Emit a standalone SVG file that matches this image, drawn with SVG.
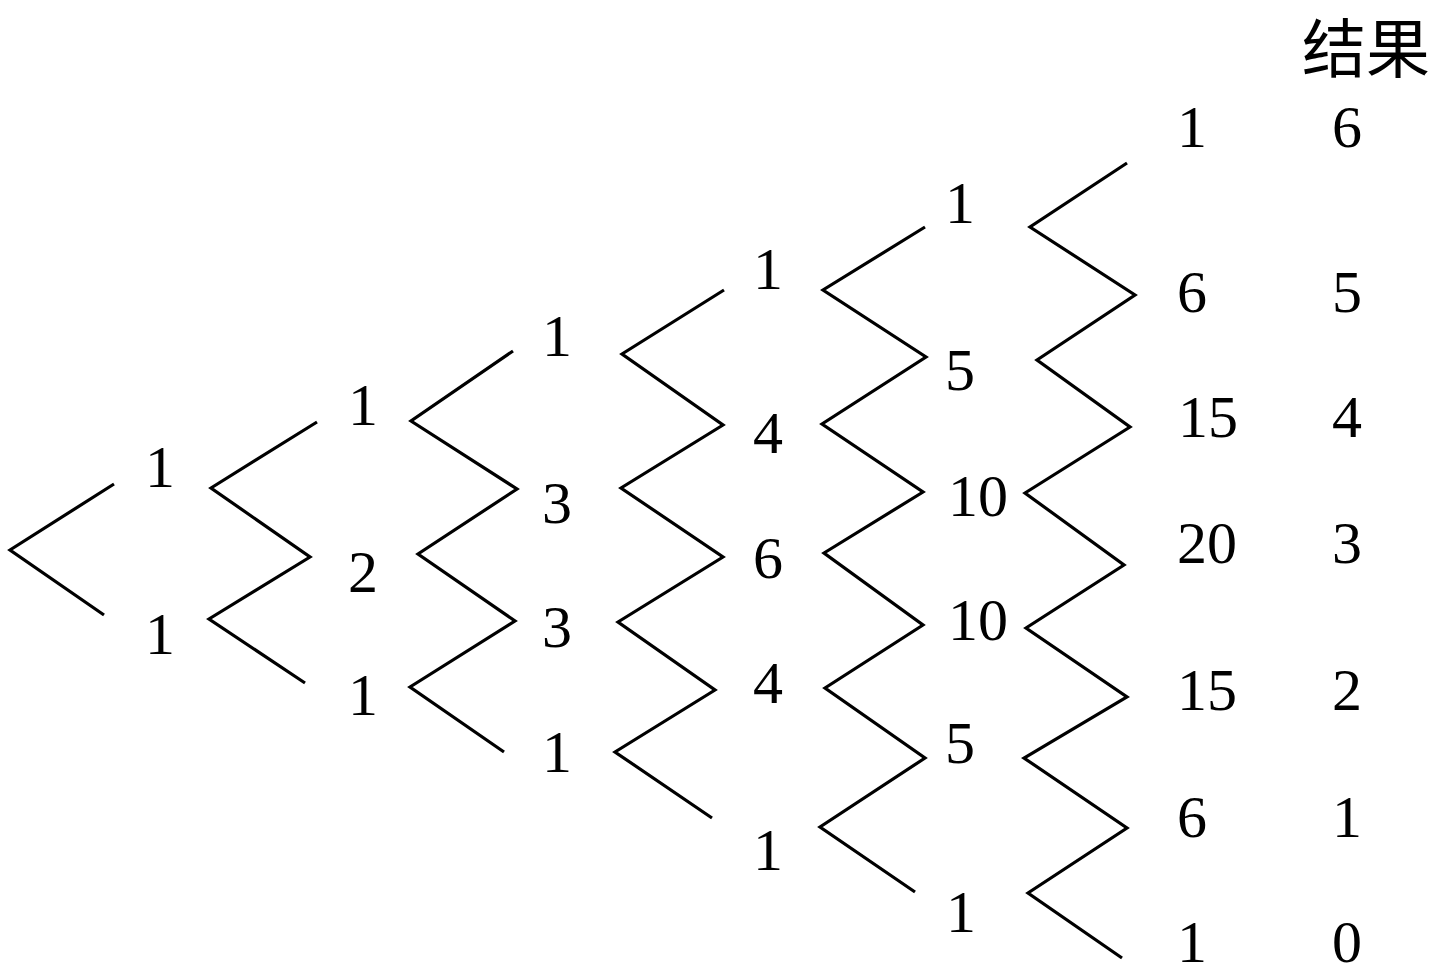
<svg xmlns="http://www.w3.org/2000/svg" width="1446" height="978" viewBox="0 0 1446 978">
<style>
.bg{fill:#fff}
.z{fill:none;stroke:#000;stroke-width:3.2;stroke-linejoin:miter;stroke-linecap:butt}
.n{font-family:"Liberation Serif","Times New Roman",serif;font-size:60px;fill:#000;text-anchor:middle}
.h{font-family:"Liberation Serif","Noto Sans CJK SC",serif;font-size:64px;fill:#000;text-anchor:middle}
</style>
<rect class="bg" x="0" y="0" width="1446" height="978"/>
<g id="connectors">
<polyline class="z" points="114,484 10,550 104,615"/>
<polyline class="z" points="317,422 211,488 310,557 209,619 305,683"/>
<polyline class="z" points="513,351 411,421 517,489 418,554 515,621 410,687 504,752"/>
<polyline class="z" points="724,290 622,354 723,425 621,488 723,557 618,622 715,690 615,752 712,818"/>
<polyline class="z" points="925,227 823,290 926,357 822,424 923,492 824,553 923,625 825,688 925,758 820,827 915,892"/>
<polyline class="z" points="1127,163 1030,227 1135,295 1037,360 1130,427 1025,493 1124,565 1026,628 1127,697 1024,758 1127,828 1028,893 1122,958"/>
</g>
<g id="header"><text class="h" x="1366" y="72">结果</text></g>
<g id="c1-0"><text class="n" x="160" y="487">1</text></g>
<g id="c1-1"><text class="n" x="160" y="654">1</text></g>
<g id="c2-0"><text class="n" x="363" y="425">1</text></g>
<g id="c2-1"><text class="n" x="363" y="592">2</text></g>
<g id="c2-2"><text class="n" x="363" y="715">1</text></g>
<g id="c3-0"><text class="n" x="557" y="356">1</text></g>
<g id="c3-1"><text class="n" x="557" y="523">3</text></g>
<g id="c3-2"><text class="n" x="557" y="647">3</text></g>
<g id="c3-3"><text class="n" x="557" y="772">1</text></g>
<g id="c4-0"><text class="n" x="768" y="289">1</text></g>
<g id="c4-1"><text class="n" x="768" y="453">4</text></g>
<g id="c4-2"><text class="n" x="768" y="578">6</text></g>
<g id="c4-3"><text class="n" x="768" y="703">4</text></g>
<g id="c4-4"><text class="n" x="768" y="870">1</text></g>
<g id="c5-0"><text class="n" x="960" y="223">1</text></g>
<g id="c5-1"><text class="n" x="960" y="390">5</text></g>
<g id="c5-2"><text class="n" x="978" y="516">10</text></g>
<g id="c5-3"><text class="n" x="978" y="640">10</text></g>
<g id="c5-4"><text class="n" x="960" y="763">5</text></g>
<g id="c5-5"><text class="n" x="961" y="932">1</text></g>
<g id="c6-0"><text class="n" x="1192" y="147">1</text></g>
<g id="c6-1"><text class="n" x="1192" y="312">6</text></g>
<g id="c6-2"><text class="n" x="1208" y="437">15</text></g>
<g id="c6-3"><text class="n" x="1207" y="563">20</text></g>
<g id="c6-4"><text class="n" x="1207" y="710">15</text></g>
<g id="c6-5"><text class="n" x="1192" y="837">6</text></g>
<g id="c6-6"><text class="n" x="1192" y="962">1</text></g>
<g id="r-6"><text class="n" x="1347" y="147">6</text></g>
<g id="r-5"><text class="n" x="1347" y="312">5</text></g>
<g id="r-4"><text class="n" x="1347" y="437">4</text></g>
<g id="r-3"><text class="n" x="1347" y="563">3</text></g>
<g id="r-2"><text class="n" x="1347" y="710">2</text></g>
<g id="r-1"><text class="n" x="1347" y="837">1</text></g>
<g id="r-0"><text class="n" x="1347" y="962">0</text></g>
</svg>
